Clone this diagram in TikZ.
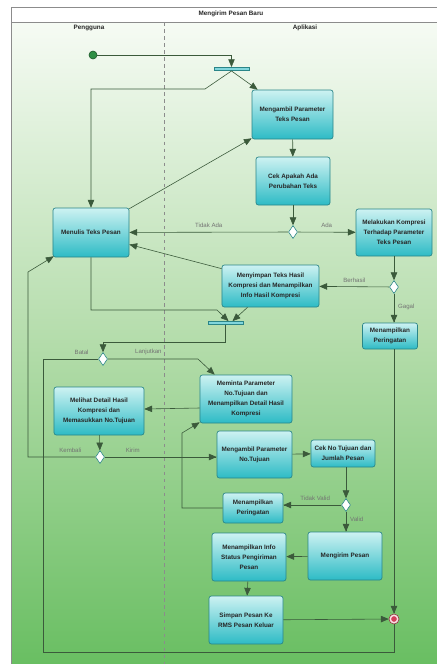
\documentclass[tikz,border=0pt]{standalone}
\usepackage{fontspec}
\setmainfont{Liberation Sans}
\usepackage{tikz}
\usetikzlibrary{shapes.geometric, arrows, calc}

\definecolor{laneTop}{HTML}{F6FBF4}
\definecolor{laneMid}{HTML}{B3DCAA}
\definecolor{laneBot}{HTML}{68BE61}
\definecolor{boxTop}{HTML}{CDF2F2}
\definecolor{boxBot}{HTML}{2DBBC5}
\definecolor{boxLine}{HTML}{2A8588}
\definecolor{flowLine}{HTML}{3B5A3B}
\definecolor{frameLine}{HTML}{8C8C8C}
\definecolor{startGreen}{HTML}{2F8F45}
\definecolor{endRed}{HTML}{D2405A}

\begin{document}
\begin{tikzpicture}[x=0.03cm, y=-0.03cm,
                    ->,
                    >=triangle 45,
                    draw=flowLine,
                    line width=0.5pt,
                    box/.style={rectangle, rounded corners=2pt, draw=boxLine, line width=0.6pt,
                                top color=boxTop, bottom color=boxBot, align=center,
                                minimum width=2.22cm, minimum height=1.44cm, inner sep=1pt,
                                font=\fontsize{5.4}{8.4}\selectfont\bfseries, text=black!85},
                    decision/.style={diamond, draw=boxLine, fill=white, line width=0.5pt,
                                     minimum width=2.7mm, minimum height=3.9mm, inner sep=0pt},
                    syncbar/.style={rectangle, draw=boxLine, fill=boxBot!60, line width=0.5pt,
                                    minimum width=1.05cm, minimum height=1mm, inner sep=0pt},
                    guard/.style={font=\fontsize{5.2}{6}\selectfont, text=black!55},
                    lane/.style={font=\fontsize{5.4}{6}\selectfont\bfseries, text=black!85}]

\useasboundingbox (0,0) rectangle (436,664);
\draw[-, draw=frameLine, top color=laneTop, bottom color=laneBot, middle color=laneMid]
    (11,22) rectangle (437,668);
\draw[-, draw=frameLine, fill=white] (11,7) rectangle (437,22);
\draw[-, draw=frameLine, dashed] (164,22) -- (164,664);

\node[lane] (title) at (231,14) {Mengirim Pesan Baru};
\node[lane] (pengguna) at (89,28) {Pengguna};
\node[lane] (aplikasi) at (305,28) {Aplikasi};

\node[circle, draw=startGreen!60!black, fill=startGreen, minimum size=2.4mm, inner sep=0pt] (init) at (93,55) {};
\node[syncbar] (fork) at (231.5,69) {};
\node[syncbar] (join) at (225.5,323) {};

\node[box, minimum width=2.43cm, minimum height=1.47cm] (ambilTeks) at (292.5,114.5) {Mengambil Parameter\\Teks Pesan};
\node[box] (cekTeks) at (293,181) {Cek Apakah Ada\\Perubahan Teks};
\node[box, minimum width=2.28cm, minimum height=1.47cm] (menulis) at (91,232.5) {Menulis Teks Pesan};
\node[box, minimum width=2.28cm, minimum height=1.41cm] (kompresi) at (394,232.5) {Melakukan Kompresi\\Terhadap Parameter\\Teks Pesan};
\node[box, minimum width=2.91cm, minimum height=1.26cm] (menyimpan) at (270.5,286) {Menyimpan Teks Hasil\\Kompresi dan Menampilkan\\Info Hasil Kompresi};
\node[box, minimum width=1.65cm, minimum height=0.78cm] (peringatanA) at (390,336) {Menampilkan\\Peringatan};
\node[box, minimum width=2.76cm] (meminta) at (246,399) {Meminta Parameter\\No.Tujuan dan\\Menampilkan Detail Hasil\\Kompresi};
\node[box, minimum width=2.7cm] (melihat) at (99,411) {Melihat Detail Hasil\\Kompresi dan\\Memasukkan No.Tujuan};
\node[box, minimum width=2.25cm, minimum height=1.41cm] (ambilTujuan) at (254.5,454.5) {Mengambil Parameter\\No.Tujuan};
\node[box, minimum width=1.92cm, minimum height=0.81cm] (cekTujuan) at (343,453.5) {Cek No Tujuan dan\\Jumlah Pesan};
\node[box, minimum width=1.8cm, minimum height=0.9cm] (peringatanB) at (253,508) {Menampilkan\\Peringatan};
\node[box] (mengirim) at (345,556) {Mengirim Pesan};
\node[box] (infoStatus) at (249,557) {Menampilkan Info\\Status Pengiriman\\Pesan};
\node[box] (simpan) at (246,620) {Simpan Pesan Ke\\RMS Pesan Keluar};

\node[decision] (dTeks) at (293,232) {};
\node[decision] (dKompresi) at (394,287) {};
\node[decision] (dLanjut) at (103,359) {};
\node[decision] (dKirim) at (100,457) {};
\node[decision] (dValid) at (346,505) {};

\node[circle, draw=endRed!70!black, fill=white!85!endRed, minimum size=3mm, inner sep=0pt] (final) at (394,619) {};
\node[circle, fill=endRed, minimum size=1.7mm, inner sep=0pt] (finalDot) at (final) {};

\draw (init) -| (fork);
\draw (fork.south) -- (205,89) -| (menulis);
\draw (fork.south) -- ($(ambilTeks.north west)+(6,0)$);
\draw	(ambilTeks) edge (cekTeks)
		(cekTeks) edge (dTeks)
		(dTeks) edge node[guard, above]{Tidak Ada} (menulis)
		(dTeks) edge node[guard, above]{Ada} (kompresi)
		(kompresi) edge (dKompresi)
		(dKompresi) edge node[guard, above]{Berhasil} (menyimpan)
		(melihat) edge (dKirim)
		(ambilTujuan) edge (cekTujuan)
		(mengirim) edge (infoStatus)
		(infoStatus) edge (simpan)
		(simpan) edge (final)
;
\draw ($(menulis.north east)+(0,1)$) -- ($(ambilTeks.south west)+(0,-1)$);
\draw ($(menyimpan.north west)+(0,4)$) -- ($(menulis.east)+(0,12)$);
\draw ($(menyimpan.south)+(-23,0)$) -- ($(join.north)+(7,0)$);
\draw (dKompresi) -- node[guard, right, pos=0.45]{Gagal} (dKompresi |- peringatanA.north);
\draw (peringatanA.south -| final) -- (final);
\draw (menulis) -- (91,310) -- (217,310) -- ($(join.north)+(3,0)$);
\draw (join.south) -- ++(0,17) -| (dLanjut);
\draw[-] (dLanjut) -- node[guard, above, pos=0.3]{Batal} (43,359) -- (43,652) -| (final);
\draw (dLanjut) -- node[guard, above, pos=0.45]{Lanjutkan} (198,359) -- ($(meminta.north west)+(15,0)$);
\draw ($(meminta.west)+(0,9)$) -- ($(melihat.east)+(0,-2)$);
\draw (dKirim) -- node[guard, above, pos=0.37]{Kembali} (28,457) -- (28,272) -- ($(menulis.south west)+(1,-1)$);
\draw (dKirim) -- node[guard, above, pos=0.25]{Kirim} (dKirim -| ambilTujuan.west);
\draw (cekTujuan.south -| dValid) -- (dValid);
\draw (dValid) -- node[guard, above, pos=0.45]{Tidak Valid} (dValid -| peringatanB.east);
\draw (peringatanB.west) -| (182,433) -- ($(meminta.south west)+(0,-1)$);
\draw (dValid) -- node[guard, right, pos=0.4]{Valid} (dValid |- mengirim.north);
\end{tikzpicture}
\end{document}
